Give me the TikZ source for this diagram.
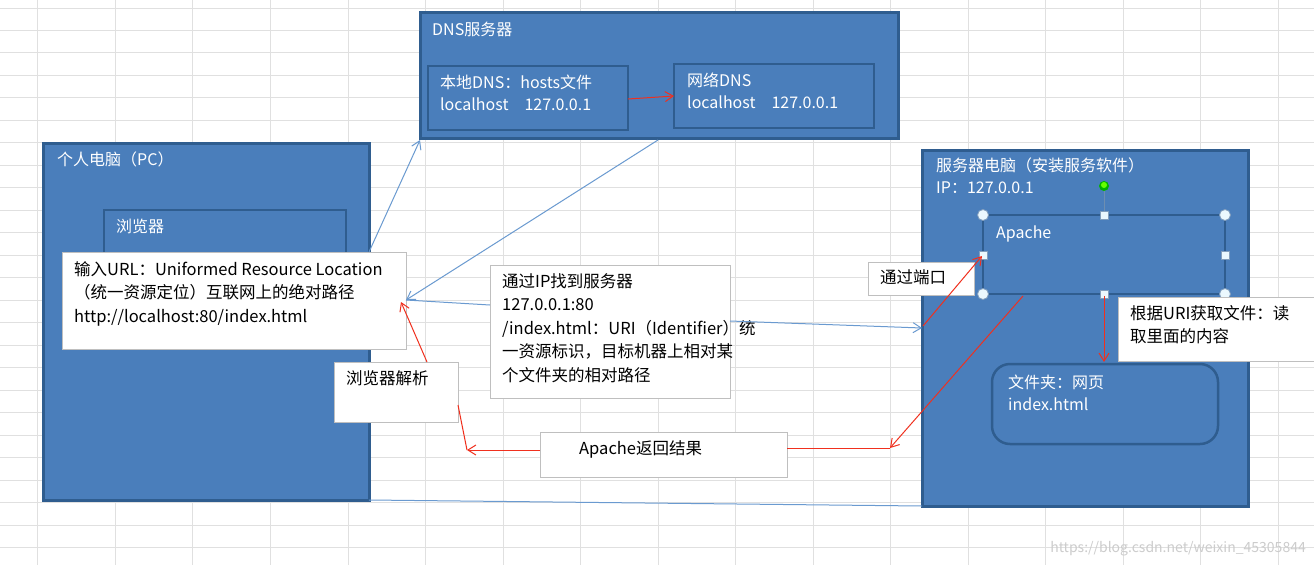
\documentclass[tikz,border=0pt]{standalone}
\usepackage{fontspec}
\setmainfont{Noto Sans CJK SC}
\usetikzlibrary{arrows.meta}
\definecolor{bfill}{HTML}{4A7EBB}
\definecolor{bdraw}{HTML}{2F5D8F}
\definecolor{arblue}{HTML}{6A9AD0}
\definecolor{arred}{HTML}{F0301E}
\tikzset{
 x=1pt,y=-1pt,
 bigbox/.style={draw=bdraw,fill=bfill,line width=3pt},
 inbox/.style={draw=bdraw,line width=2.5pt},
 wbox/.style={draw=black!25,fill=white,line width=0.8pt},
 wt/.style={text=white,anchor=north west,inner sep=0pt,font=\fontsize{16}{22}\selectfont,align=left},
 bt/.style={text=black,anchor=north west,inner sep=0pt,font=\fontsize{16.5}{23.5}\selectfont,align=left},
 ba/.style={arblue,line width=1pt,-{Straight Barb[length=8pt,width=10pt]}},
 ra/.style={arred,line width=1pt,-{Straight Barb[length=8pt,width=10pt]}},
 hc/.style={circle,draw=bdraw!60,fill=cyan!8,inner sep=0pt,minimum size=11pt,line width=0.8pt},
 hs/.style={rectangle,draw=bdraw!60,fill=cyan!8,inner sep=0pt,minimum size=8pt,line width=0.8pt}
}
\begin{document}
\begin{tikzpicture}
\useasboundingbox (0,0) rectangle (1314,565);
\fill[white] (0,0) rectangle (1314,565);
% grid
\foreach \x in {-118,-41,37,115,192,270,348,425,503,580,658,735,813,890,968,1045,1123,1200,1278}
  \draw[black!12,line width=0.8pt] (\x,0) -- (\x,565);
\foreach \y in {8,30,52,75,97,120,142,165,187,210,232,255,277,300,322,345,367,390,412,435,457,480,502,525,547}
  \draw[black!12,line width=0.8pt] (0,\y) -- (1314,\y);
% DNS
\draw[bigbox] (420,12) rectangle (898,138);
\node[wt] (dnst) at (432,22) {DNS服务器};
\draw[inbox] (428,66) rectangle (628,130);
\node[wt] (ldns) at (440,75) {本地DNS：hosts文件\\localhost\quad 127.0.0.1};
\draw[inbox] (674,64) rectangle (874,128);
\node[wt] (ndns) at (687,73) {网络DNS\\localhost\quad 127.0.0.1};
\coordinate (l1) at (628,99); \coordinate (n1) at (674,96);
\draw[ra] (l1) -- (n1);
% PC
\draw[bigbox] (43,143) rectangle (369,500);
\node[wt] (pct) at (57,152) {个人电脑（PC）};
\draw[inbox] (104,210) rectangle (346,300);
\node[wt] (brt) at (116,219) {浏览器};
% Server
\draw[bigbox] (922,150) rectangle (1248,506);
\node[wt] (svt) at (936,158) {服务器电脑（安装服务软件）\\IP：127.0.0.1};
\draw[bdraw!70,line width=1pt] (1104,186) -- (1104,215);
\fill[green!70!black] (1104,186) circle (5pt);
\fill[green!60!yellow] (1104,185) circle (3pt);
\draw[inbox] (983,215) rectangle (1225,294);
\node[wt] (apt) at (996,226) {Apache};
\draw[draw=bdraw,line width=2.5pt,rounded corners=18pt] (992,364) rectangle (1218,444);
\node[wt] (fdt) at (1008,375) {文件夹：网页\\index.html};
\foreach \p in {(983,215),(1225,215),(983,294),(1225,294)} \node[hc] at \p {};
\foreach \p in {(1104,215),(983,255),(1225,255),(1104,294)} \node[hs] at \p {};
% white boxes
\draw[wbox] (62,252) rectangle (406,349);
\node[bt] (url) at (74,261) {输入URL：Uniformed Resource Location\\（统一资源定位）互联网上的绝对路径\\http://localhost:80/index.html};
\draw[wbox] (490,265) rectangle (730,398);
\node[bt] (ip) at (502,273) {通过IP找到服务器\\127.0.0.1:80\\/index.html：URI（Identifier）统\\一资源标识，目标机器上相对某\\个文件夹的相对路径};
\draw[wbox] (868,262) rectangle (974,295);
\node[bt] (port) at (880,269) {通过端口};
\draw[wbox] (1118,297) rectangle (1318,361);
\node[bt] (uri) at (1130,305) {根据URI获取文件：读\\取里面的内容};
\draw[wbox] (334,362) rectangle (458,422);
\node[bt] (parse) at (346,370) {浏览器解析};
\draw[wbox] (540,432) rectangle (787,477);
\node[bt] (ret) at (579,440) {Apache返回结果};
% blue connectors
\coordinate (pc1) at (369,252); \coordinate (dns1) at (420,140);
\draw[ba] (pc1) -- (dns1);
\coordinate (dns2) at (658,140); \coordinate (url1) at (406,300);
\draw[ba] (dns2) -- (url1);
\coordinate (ip1) at (490,305);
\draw[arblue,line width=1pt] (ip1) -- (url1);
\coordinate (ip2) at (730,321); \coordinate (sv1) at (922,328);
\draw[ba] (ip2) -- (sv1);
\coordinate (pc2) at (369,500); \coordinate (sv2) at (922,506);
\draw[arblue,line width=1pt] (pc2) -- (sv2);
% red connectors
\coordinate (r1) at (923,326); \coordinate (ap1) at (982,256);
\draw[ra] (r1) -- (ap1);
\coordinate (ap2) at (1104,296); \coordinate (fd1) at (1104,362);
\draw[ra] (ap2) -- (fd1);
\coordinate (ap3) at (1023,296); \coordinate (rk) at (890,448); \coordinate (ret1) at (787,448);
\draw[arred,line width=1pt] (ret1) -- (rk);
\draw[ra] (ap3) -- (rk);
\coordinate (ret2) at (540,450); \coordinate (bk) at (467,450); \coordinate (pa1) at (458,405);
\draw[arred,line width=1pt] (pa1) -- (bk);
\draw[ra] (ret2) -- (bk);
\coordinate (pa2) at (427,362); \coordinate (url2) at (401,302);
\draw[ra] (pa2) -- (url2);
% watermark
\node[anchor=south east,text=black!20,font=\fontsize{14}{16}\selectfont,inner sep=0pt] (wm) at (1306,556) {https://blog.csdn.net/weixin\_45305844};
\end{tikzpicture}
\end{document}
